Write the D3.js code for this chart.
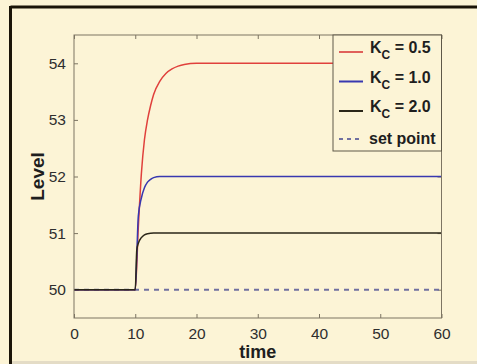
<!DOCTYPE html>
<html>
<head>
<meta charset="utf-8">
<style>
  body { margin: 0; background: #fcf4d6; }
  svg { display: block; }
  text { font-family: "Liberation Sans", Arial, sans-serif; }
</style>
</head>
<body>
<svg width="477" height="364"></svg>
<script src="https://d3js.org/d3.v7.min.js"></script>
<script>
// values
var xTicks = [0, 10, 20, 30, 40, 50, 60];
var yTicks = [50, 51, 52, 53, 54];

var timeRed  = [0, 10, 10.5, 11, 11.5, 12, 12.5, 13, 14, 15, 16, 17, 18, 20, 22, 60];
var levelRed = [50, 50, 51.1, 52.05, 52.65, 53.0, 53.25, 53.45, 53.68, 53.82, 53.9, 53.95, 53.98, 54.0, 54.0, 54.0];

var timeBlue  = [0, 10, 10.5, 11, 11.5, 12, 12.5, 13, 14, 60];
var levelBlue = [50, 50, 51.3, 51.62, 51.8, 51.9, 51.95, 51.98, 52.0, 52.0];

var timeBlack  = [0, 10, 10.25, 10.5, 11, 11.5, 12, 13, 60];
var levelBlack = [50, 50, 50.7, 50.82, 50.92, 50.97, 50.99, 51.0, 51.0];

var setPointTime = [0, 60];
var setPointLevel = [50, 50];

var legendLabels = ["0.5", "1.0", "2.0"];

var svg = d3.select("svg");

// outer frame
svg.append("rect").attr("x", 0).attr("y", 0).attr("width", 477).attr("height", 364).attr("fill", "#fcf4d6");
svg.append("line").attr("x1", 10.5).attr("x2", 477).attr("y1", 7).attr("y2", 7)
  .attr("stroke", "#1a1408").attr("stroke-width", 3);
svg.append("line").attr("x1", 10.5).attr("x2", 10.5).attr("y1", 6).attr("y2", 364)
  .attr("stroke", "#1a1408").attr("stroke-width", 3);
svg.append("line").attr("x1", 12).attr("x2", 477).attr("y1", 362.5).attr("y2", 362.5)
  .attr("stroke", "#e4dcc6").attr("stroke-width", 3);

var plotLeft = 74, plotTop = 35, plotW = 367.5, plotH = 283;
var x = d3.scaleLinear().domain([0, 60]).range([plotLeft, plotLeft + plotW]);
var y = d3.scaleLinear().domain([49.5, 54.5]).range([plotTop + plotH, plotTop]);

var axisColor = "#7d7563";

// ticks (inside, on all four sides)
var g = svg.append("g");
g.append("g").attr("transform", "translate(0," + (plotTop + plotH) + ")")
  .call(d3.axisBottom(x).tickValues(xTicks).tickSizeInner(-4).tickSizeOuter(0).tickPadding(10))
  .call(function(s) { s.select(".domain").remove(); });
g.append("g").attr("transform", "translate(0," + plotTop + ")")
  .call(d3.axisTop(x).tickValues(xTicks).tickSizeInner(-4).tickSizeOuter(0).tickFormat(""))
  .call(function(s) { s.select(".domain").remove(); });
g.append("g").attr("transform", "translate(" + plotLeft + ",0)")
  .call(d3.axisLeft(y).tickValues(yTicks).tickFormat(d3.format("d")).tickSizeInner(-4).tickSizeOuter(0).tickPadding(8))
  .call(function(s) { s.select(".domain").remove(); });
g.append("g").attr("transform", "translate(" + (plotLeft + plotW) + ",0)")
  .call(d3.axisRight(y).tickValues(yTicks).tickSizeInner(-4).tickSizeOuter(0).tickFormat(""))
  .call(function(s) { s.select(".domain").remove(); });
g.selectAll(".tick line").attr("stroke", axisColor);
g.selectAll(".tick text").attr("fill", "#2e2e2e").style("font-size", "15.5px")
  .style("font-family", "'Liberation Sans', Arial, sans-serif");

var line = d3.line()
  .x(function(d) { return x(d[0]); })
  .y(function(d) { return y(d[1]); })
  .curve(d3.curveMonotoneX);

function pairs(t, v) { return t.map(function(d, i) { return [d, v[i]]; }); }

svg.append("path").datum(pairs(setPointTime, setPointLevel)).attr("d", line)
  .attr("fill", "none").attr("stroke", "#7070a0").attr("stroke-width", 2).attr("stroke-dasharray", "5,5");
svg.append("path").datum(pairs(timeRed, levelRed)).attr("d", line)
  .attr("fill", "none").attr("stroke", "#e0403c").attr("stroke-width", 1.5);
svg.append("path").datum(pairs(timeBlue, levelBlue)).attr("d", line)
  .attr("fill", "none").attr("stroke", "#3838b0").attr("stroke-width", 1.5);
svg.append("path").datum(pairs(timeBlack, levelBlack)).attr("d", line)
  .attr("fill", "none").attr("stroke", "#2a2618").attr("stroke-width", 1.5);

// plot box
svg.append("rect").attr("x", plotLeft).attr("y", plotTop).attr("width", plotW).attr("height", plotH)
  .attr("fill", "none").attr("stroke", axisColor).attr("stroke-width", 1);

// legend
var lg = svg.append("g");
lg.append("rect").attr("x", 333).attr("y", plotTop).attr("width", plotLeft + plotW - 333).attr("height", 116)
  .attr("fill", "#fcf4d6").attr("stroke", "#5e5848").attr("stroke-width", 1);
var legendColors = ["#e0605a", "#3838b0", "#2a2618"];
legendLabels.forEach(function(lab, i) {
  var ry = 52 + i * 29.5;
  lg.append("line").attr("x1", 339).attr("x2", 363).attr("y1", ry).attr("y2", ry)
    .attr("stroke", legendColors[i]).attr("stroke-width", 2);
  var t = lg.append("text").attr("x", 370).attr("y", ry + 1).attr("fill", "#1e1e1e")
    .style("font-size", "16px").style("font-weight", "bold");
  t.append("tspan").text("K");
  t.append("tspan").attr("dy", 6).style("font-size", "12px").text("C");
  t.append("tspan").attr("dy", -6).text(" = " + lab);
});
lg.append("line").attr("x1", 339).attr("x2", 363).attr("y1", 139).attr("y2", 139)
  .attr("stroke", "#7070a0").attr("stroke-width", 2).attr("stroke-dasharray", "4,4");
lg.append("text").attr("x", 369).attr("y", 144).attr("fill", "#1e1e1e")
  .style("font-size", "16px").style("font-weight", "bold").text("set point");

// axis titles
svg.append("text").attr("x", plotLeft + plotW / 2).attr("y", 358).attr("text-anchor", "middle")
  .attr("fill", "#1e1e1e").style("font-size", "18px").style("font-weight", "bold").text("time");
svg.append("text").attr("transform", "translate(44," + (plotTop + plotH / 2) + ") rotate(-90)")
  .attr("text-anchor", "middle").attr("fill", "#1e1e1e")
  .style("font-size", "19px").style("font-weight", "bold").text("Level");
</script>
</body>
</html>
